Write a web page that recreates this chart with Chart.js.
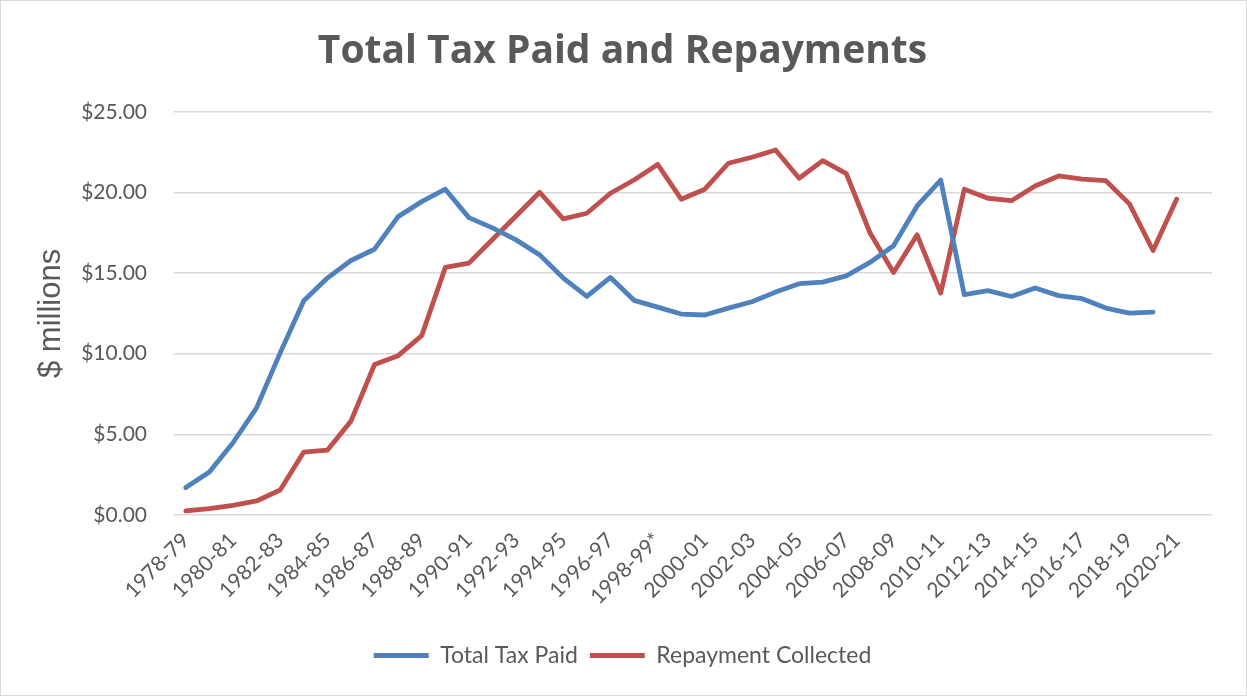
<!DOCTYPE html>
<html>
<head>
<meta charset="utf-8">
<script src="https://cdn.jsdelivr.net/npm/chart.js@4"></script>
<style>
  body { margin: 0; background: #fff; }
  #wrap { width: 1245px; height: 694px; border: 1px solid #d9d9d9; }
</style>
</head>
<body>
<div id="wrap"><canvas id="taxChart" width="1245" height="694"></canvas></div>
<script>
// Años fiscales (el último sin datos, Excel deja el hueco)
const years = ['1978-79', '1979-80', '1980-81', '1981-82', '1982-83', '1983-84', '1984-85', '1985-86',
    '1986-87', '1987-88', '1988-89', '1989-90', '1990-91', '1991-92', '1992-93', '1993-94',
    '1994-95', '1995-96', '1996-97', '1997-98', '1998-99*', '1999-00', '2000-01', '2001-02',
    '2002-03', '2003-04', '2004-05', '2005-06', '2006-07', '2007-08', '2008-09', '2009-10',
    '2010-11', '2011-12', '2012-13', '2013-14', '2014-15', '2015-16', '2016-17', '2017-18',
    '2018-19', '2019-20', '2020-21', '2021-22'];

// $ millones
const totalTaxPaid = [1.70, 2.66, 4.48, 6.64, 10.05, 13.29, 14.69, 15.78, 16.48, 18.50, 19.43,
    20.20, 18.44, 17.80, 17.06, 16.13, 14.69, 13.55, 14.73, 13.31, 12.89, 12.46, 12.40, 12.83,
    13.22, 13.82, 14.34, 14.44, 14.83, 15.66, 16.69, 19.16, 20.77, 13.66, 13.91, 13.55, 14.07,
    13.60, 13.41, 12.83, 12.52, 12.58, null, null];

const repaymentCollected = [0.25, 0.40, 0.60, 0.87, 1.55, 3.90, 4.02, 5.82, 9.33, 9.88, 11.12,
    15.35, 15.62, 17.08, 18.54, 20.01, 18.36, 18.71, 19.95, 20.77, 21.74, 19.58, 20.20, 21.81,
    22.18, 22.63, 20.88, 21.97, 21.17, 17.50, 15.04, 17.37, 13.76, 20.20, 19.64, 19.49, 20.40,
    21.02, 20.82, 20.73, 19.29, 16.40, 19.58, null];

const yTicks = [0, 5, 10, 15, 20, 25];

const gris = '#595959';

const taxChart = new Chart(document.getElementById('taxChart'), {
    type: 'line',
    data: {
        labels: years,
        datasets: [{
            label: 'Total Tax Paid',
            data: totalTaxPaid,
            borderColor: '#4f81bd',
            backgroundColor: '#4f81bd',
            borderWidth: 4.8,
            borderCapStyle: 'round',
            borderJoinStyle: 'round',
            pointRadius: 0,
            tension: 0
        }, {
            label: 'Repayment Collected',
            data: repaymentCollected,
            borderColor: '#c0504d',
            backgroundColor: '#c0504d',
            borderWidth: 4.8,
            borderCapStyle: 'round',
            borderJoinStyle: 'round',
            pointRadius: 0,
            tension: 0
        }]
    },
    options: {
        responsive: false,
        animation: false,
        layout: { padding: { left: 32, right: 34, top: 0, bottom: 18 } },
        plugins: {
            title: {
                display: true,
                text: 'Total Tax Paid and Repayments',
                color: gris,
                font: { family: 'Open Sans', size: 39, weight: 'bold' },
                padding: { top: 27, bottom: 37 }
            },
            legend: {
                position: 'bottom',
                labels: {
                    color: gris,
                    font: { family: 'Lato', size: 23 },
                    boxWidth: 55,
                    boxHeight: 5,
                    padding: 12,
                    generateLabels: chart => chart.data.datasets.map((ds, i) => ({
                        text: ds.label,
                        fillStyle: ds.borderColor,
                        strokeStyle: ds.borderColor,
                        lineWidth: 0,
                        fontColor: gris,
                        datasetIndex: i
                    }))
                }
            },
            tooltip: { enabled: false }
        },
        scales: {
            x: {
                offset: true,
                grid: { display: false },
                border: { display: false },
                afterFit: scale => { scale.height = 117; },
                ticks: {
                    autoSkip: false,
                    minRotation: 45,
                    maxRotation: 45,
                    padding: 5,
                    color: gris,
                    font: { family: 'Lato', size: 21 },
                    callback: (v, i) => i % 2 === 0 ? years[i] : ''
                }
            },
            y: {
                min: 0,
                max: 25,
                afterFit: scale => { scale.width = 141; },
                afterBuildTicks: scale => { scale.ticks = yTicks.map(v => ({ value: v })); },
                grid: { color: '#d9d9d9', lineWidth: 1.5, drawTicks: false },
                border: { display: false },
                ticks: {
                    padding: 27,
                    color: gris,
                    font: { family: 'Lato', size: 21 },
                    callback: v => '$' + v.toFixed(2)
                },
                title: {
                    display: true,
                    text: '$ millions',
                    color: gris,
                    font: { family: 'Liberation Sans', size: 31 },
                    padding: 0
                }
            }
        }
    }
});
</script>
</body>
</html>
